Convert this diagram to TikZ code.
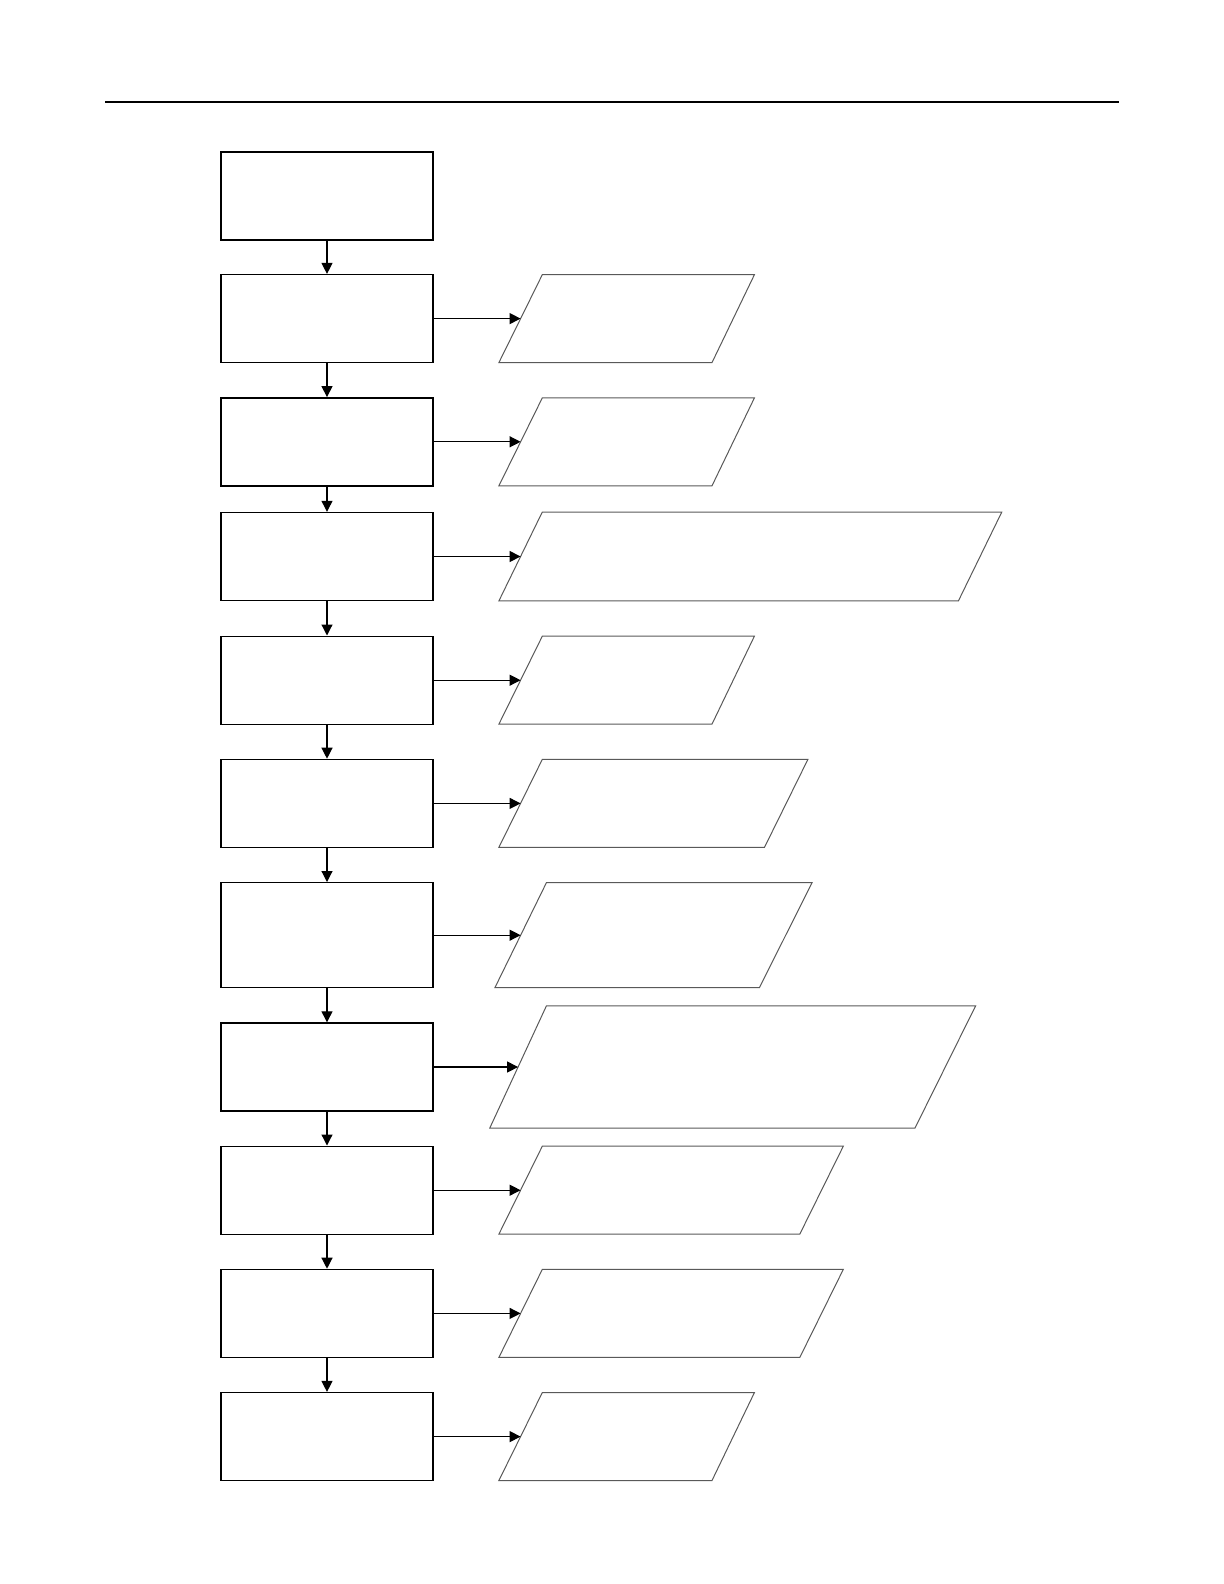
\documentclass[tikz,border=0pt]{standalone}
\usepackage{tikz}
\usetikzlibrary{arrows.meta, positioning}

\begin{document}
\begin{tikzpicture}[
    x=0.5bp, y=-0.5bp,
    >={Triangle[length=5.5bp, width=5.5bp]},
    proc/.style={
        draw,
        line width=0.7bp,
        minimum width=106bp,
        minimum height=44bp,
        inner sep=0pt
    },
    io/.style={
        draw=black!65,
        line width=0.5bp
    },
    flow/.style={
        ->,
        line width=0.6bp
    }
]
\useasboundingbox (0,0) rectangle (1224,1584);

% =========================================================
% Header rule
% =========================================================
\draw[line width=0.8bp] (105,102) -- (1119,102);

% =========================================================
% Process column
% =========================================================
\node[proc] (b1)  at (327, 196.0) {};
\node[proc] (b2)  at (327, 318.6) {};
\node[proc] (b3)  at (327, 441.8) {};
\node[proc] (b4)  at (327, 556.5) {};
\node[proc] (b5)  at (327, 680.2) {};
\node[proc] (b6)  at (327, 803.4) {};
\node[proc, minimum height=52.5bp] (b7) at (327, 935.2) {};
\node[proc] (b8)  at (327, 1067.0) {};
\node[proc] (b9)  at (327, 1190.2) {};
\node[proc] (b10) at (327, 1313.4) {};
\node[proc] (b11) at (327, 1436.6) {};

% down arrows
\draw[flow] (b1)  -- (b2);
\draw[flow] (b2)  -- (b3);
\draw[flow] (b3)  -- (b4);
\draw[flow] (b4)  -- (b5);
\draw[flow] (b5)  -- (b6);
\draw[flow] (b6)  -- (b7);
\draw[flow] (b7)  -- (b8);
\draw[flow] (b8)  -- (b9);
\draw[flow] (b9)  -- (b10);
\draw[flow] (b10) -- (b11);

% =========================================================
% Data column (parallelograms)
% =========================================================
\draw[io] (542.3,274.7) -- (754.4,274.7) -- (712.0,362.6) -- (498.9,362.6) -- cycle;
\coordinate (d2) at (520.6,318.6);

\draw[io] (542.3,397.9) -- (754.4,397.9) -- (712.0,485.8) -- (498.9,485.8) -- cycle;
\coordinate (d3) at (520.6,441.8);

\draw[io] (542.3,512.0) -- (1001.8,512.0) -- (958.4,600.9) -- (498.9,600.9) -- cycle;
\coordinate (d4) at (520.6,556.5);

\draw[io] (542.3,636.2) -- (754.4,636.2) -- (712.0,724.1) -- (498.9,724.1) -- cycle;
\coordinate (d5) at (520.6,680.2);

\draw[io] (542.3,759.4) -- (807.9,759.4) -- (764.5,847.3) -- (498.9,847.3) -- cycle;
\coordinate (d6) at (520.6,803.4);

\draw[io] (546.4,882.7) -- (812.0,882.7) -- (759.4,987.7) -- (494.9,987.7) -- cycle;
\coordinate (d7) at (520.6,935.2);

\draw[io] (546.4,1005.9) -- (975.6,1005.9) -- (915.0,1128.0) -- (489.8,1128.0) -- cycle;
\coordinate (d8) at (518.1,1067.0);

\draw[io] (542.3,1146.2) -- (843.3,1146.2) -- (799.8,1234.1) -- (498.9,1234.1) -- cycle;
\coordinate (d9) at (520.6,1190.2);

\draw[io] (542.3,1269.4) -- (843.3,1269.4) -- (799.8,1357.4) -- (498.9,1357.4) -- cycle;
\coordinate (d10) at (520.6,1313.4);

\draw[io] (542.3,1392.6) -- (754.4,1392.6) -- (712.0,1480.5) -- (498.9,1480.5) -- cycle;
\coordinate (d11) at (520.6,1436.6);

% side arrows
\draw[flow] (b2.east)  -- (d2);
\draw[flow] (b3.east)  -- (d3);
\draw[flow] (b4.east)  -- (d4);
\draw[flow] (b5.east)  -- (d5);
\draw[flow] (b6.east)  -- (d6);
\draw[flow] (b7.east)  -- (d7);
\draw[flow] (b8.east)  -- (d8);
\draw[flow] (b9.east)  -- (d9);
\draw[flow] (b10.east) -- (d10);
\draw[flow] (b11.east) -- (d11);

\end{tikzpicture}
\end{document}
